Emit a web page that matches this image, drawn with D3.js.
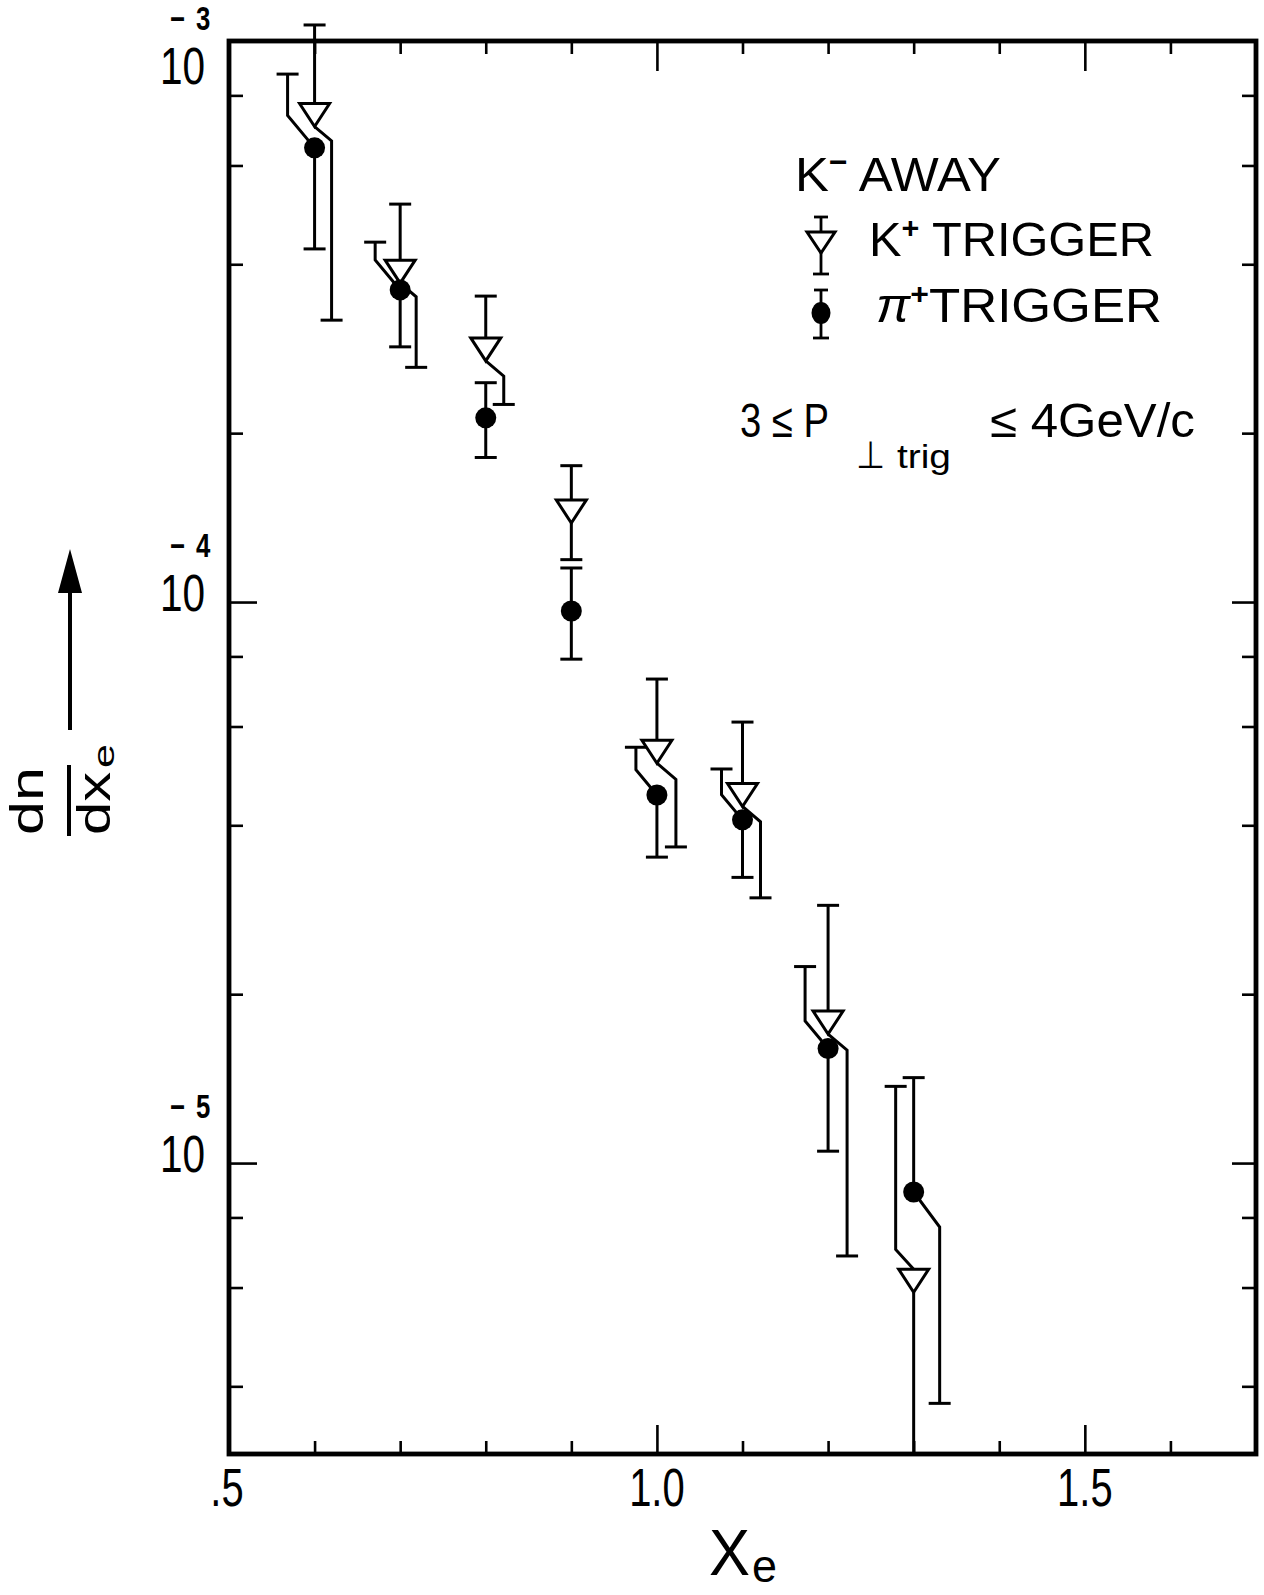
<!DOCTYPE html>
<html>
<head>
<meta charset="utf-8">
<script src="https://cdn.jsdelivr.net/npm/d3@7"></script>
<style>
  html, body { margin: 0; padding: 0; background: #fff; }
  svg { display: block; }
  text { font-family: "Liberation Sans", Arial, sans-serif; fill: #000; }
</style>
</head>
<body>
<svg id="chart" width="1264" height="1595"></svg>
<script>
// ---------------- data ----------------
const xe        = [0.6, 0.7, 0.8, 0.9, 1.0, 1.1, 1.2, 1.3];
// K- away, K+ trigger
const kPlus     = [7.38e-4, 3.88e-4, 2.82e-4, 1.45e-4, 5.41e-5, 4.53e-5, 1.78e-5, 6.17e-6];
const kPlusHi   = [1.068e-3, 5.12e-4, 3.51e-4, 1.75e-4, 7.29e-5, 6.11e-5, 2.88e-5, 1.37e-5];
const kPlusLo   = [3.18e-4, 2.62e-4, 2.25e-4, 1.19e-4, 3.66e-5, 2.97e-5, 6.83e-6, 2.0e-6];
// K- away, pi+ trigger
const piPlus    = [6.45e-4, 3.60e-4, 2.13e-4, 9.64e-5, 4.53e-5, 4.09e-5, 1.60e-5, 8.88e-6];
const piPlusHi  = [8.73e-4, 4.38e-4, 2.46e-4, 1.15e-4, 5.51e-5, 5.04e-5, 2.24e-5, 1.42e-5];
const piPlusLo  = [4.26e-4, 2.85e-4, 1.81e-4, 7.91e-5, 3.51e-5, 3.23e-5, 1.05e-5, 3.73e-6];

const xTicks      = [0.6, 0.7, 0.8, 0.9, 1.0, 1.1, 1.2, 1.3, 1.4, 1.5, 1.6];
const xMajor      = [1.0, 1.5];
const xLabelVals  = [0.5, 1.0, 1.5];
const xLabelText  = [".5", "1.0", "1.5"];
const yTicks      = [8e-4, 6e-4, 4e-4, 2e-4, 1e-4, 8e-5, 6e-5, 4e-5, 2e-5, 1e-5, 8e-6, 6e-6, 4e-6];
const yMajor      = [1e-4, 1e-5];
const yDecades    = [1e-3, 1e-4, 1e-5];
const yDecadeExp  = ["3", "4", "5"];

// ---------------- style: horizontal displacement (px) of overlapping error-bar halves ----------------
const kLoShift  = [17, 16, 18, 0, 19, 18, 19, 0];
const kHiShift  = [0, 0, 0, 0, 0, 0, 0, -18];
const piHiShift = [-27, -25, 0, 0, -21, -21, -23, 0];
const piLoShift = [0, 0, 0, 0, 0, 0, 0, 26];

// ---------------- layout ----------------
const X0 = 229, X1 = 1256, Y0 = 41, Y1 = 1454;
const svg = d3.select("#chart");
const x = d3.scaleLinear().domain([0.5, 1.7]).range([X0, X1]);
const y = d3.scaleLog().domain([1e-3, 3.03e-6]).range([Y0, Y1]);

const LW = 3;      // error bar width
const CAP = 11;    // half cap width
const TW = 15, TH = 11.5; // triangle half width / half height
const R = 10.5;

function fitH(sel, x0, x1) {
  const b = sel.node().getBBox();
  const s = (x1 - x0) / b.width;
  sel.attr("transform", `translate(${x0 - b.x * s},0) scale(${s},1)`);
}
function near(a, list) { return list.some(v => Math.abs(v - a) < 1e-9); }

// ---------------- axes ----------------
const gB = svg.append("g").attr("transform", `translate(0,${Y1})`)
  .call(d3.axisBottom(x).tickValues(xTicks).tickSize(-13).tickSizeOuter(0).tickFormat(""));
const gT = svg.append("g").attr("transform", `translate(0,${Y0})`)
  .call(d3.axisTop(x).tickValues(xTicks).tickSize(-13).tickSizeOuter(0).tickFormat(""));
const gL = svg.append("g").attr("transform", `translate(${X0},0)`)
  .call(d3.axisLeft(y).tickValues(yTicks).tickSize(-14).tickSizeOuter(0).tickFormat(""));
const gR = svg.append("g").attr("transform", `translate(${X1},0)`)
  .call(d3.axisRight(y).tickValues(yTicks).tickSize(-14).tickSizeOuter(0).tickFormat(""));
[gB, gT, gL, gR].forEach(g => {
  g.select(".domain").remove();
  g.selectAll(".tick line").attr("stroke", "#000").attr("stroke-width", 2.6);
});
gB.selectAll(".tick line").filter(d => near(d, xMajor)).attr("y2", -29);
gT.selectAll(".tick line").filter(d => near(d, xMajor)).attr("y2", 30);
gL.selectAll(".tick line").filter(d => near(d, yMajor)).attr("x2", 28);
gR.selectAll(".tick line").filter(d => near(d, yMajor)).attr("x2", -24);

svg.append("rect").attr("x", X0).attr("y", Y0).attr("width", X1 - X0).attr("height", Y1 - Y0)
  .attr("fill", "none").attr("stroke", "#000").attr("stroke-width", 4.8);

// x tick labels
xLabelVals.forEach((v, i) => {
  const t = svg.append("text").attr("x", 0).attr("y", 1506)
    .attr("text-anchor", "middle").attr("font-size", 54).text(xLabelText[i]);
  t.attr("transform", `translate(${x(v) - (i === 0 ? 2 : 0)},0) scale(0.74,1)`);
});
// y decade labels: "10" with superscript exponent
const SX = 0.78;
yDecades.forEach((v, i) => {
  const base = Math.max(y(v) + 9, 84);
  const t = svg.append("text").attr("transform", `translate(160,0) scale(${SX},1)`);
  t.append("tspan").attr("x", 0).attr("y", base).attr("font-size", 52).text("10");
  t.append("tspan").attr("x", (170 - 160) / SX).attr("y", base - 54).attr("font-size", 33)
    .attr("font-weight", "bold").text("\u2212");
  t.append("tspan").attr("x", (196 - 160) / SX).attr("y", base - 54).attr("font-size", 33)
    .attr("font-weight", "bold").text(yDecadeExp[i]);
});

// axis titles
const xt = svg.append("text").attr("x", 0).attr("y", 1575).attr("font-size", 64).text("X");
fitH(xt, 709, 750);
const xs = svg.append("text").attr("x", 0).attr("y", 1582).attr("font-size", 46).text("e");
fitH(xs, 752, 777);

const gy = svg.append("g").attr("transform", "rotate(-90)");
const dn = gy.append("text").attr("x", 0).attr("y", 43).attr("font-size", 46).text("dn");
fitH(dn, -835, -767);
const dx = gy.append("text").attr("x", 0).attr("y", 110).attr("font-size", 46).text("dx");
fitH(dx, -835, -772);
const de = gy.append("text").attr("x", 0).attr("y", 114).attr("font-size", 30).text("e");
fitH(de, -768, -744);
svg.append("line").attr("x1", 69).attr("x2", 69).attr("y1", 765).attr("y2", 836)
  .attr("stroke", "#000").attr("stroke-width", 4);
svg.append("line").attr("x1", 70).attr("x2", 70).attr("y1", 730).attr("y2", 585)
  .attr("stroke", "#000").attr("stroke-width", 4);
svg.append("path").attr("d", "M70,549 L58,593 L82,593 Z").attr("fill", "#000");

// ---------------- data marks ----------------
svg.append("defs").append("clipPath").attr("id", "clipBottom")
  .append("rect").attr("x", 0).attr("y", 0).attr("width", 1264).attr("height", Y1 - 2);
const gd = svg.append("g").attr("clip-path", "url(#clipBottom)");

function bar(path, capX, capY) {
  gd.append("path").attr("d", path).attr("fill", "none").attr("stroke", "#000")
    .attr("stroke-width", LW).attr("stroke-linejoin", "miter");
  gd.append("line").attr("x1", capX - CAP).attr("x2", capX + CAP).attr("y1", capY).attr("y2", capY)
    .attr("stroke", "#000").attr("stroke-width", LW);
}

xe.forEach((xv, i) => {
  const cx = x(xv);
  // K+ trigger bars
  const ky = y(kPlus[i]);
  const kTop = ky - TH, kBot = ky + TH;
  const kh = y(kPlusHi[i]), kl = y(kPlusLo[i]);
  let d = kHiShift[i];
  if (d) bar(`M${cx + d},${kh} L${cx + d},${kTop - 1.1 * Math.abs(d)} L${cx},${kTop}`, cx + d, kh);
  else bar(`M${cx},${kh} L${cx},${kTop}`, cx, kh);
  d = kLoShift[i];
  if (d) bar(`M${cx},${kBot} L${cx + d},${kBot + 0.85 * Math.abs(d)} L${cx + d},${kl}`, cx + d, kl);
  else bar(`M${cx},${kBot} L${cx},${kl}`, cx, kl);
  // pi+ trigger bars
  const py = y(piPlus[i]);
  const ph = y(piPlusHi[i]), pl = y(piPlusLo[i]);
  d = piHiShift[i];
  if (d) bar(`M${cx + d},${ph} L${cx + d},${py - 1.2 * Math.abs(d)} L${cx},${py}`, cx + d, ph);
  else bar(`M${cx},${ph} L${cx},${py}`, cx, ph);
  d = piLoShift[i];
  if (d) bar(`M${cx},${py} L${cx + d},${py + 1.35 * Math.abs(d)} L${cx + d},${pl}`, cx + d, pl);
  else bar(`M${cx},${py} L${cx},${pl}`, cx, pl);
});

gd.selectAll("path.tri").data(xe).enter().append("path").attr("class", "tri")
  .attr("d", (xv, i) => {
    const cx = x(xv), cy = y(kPlus[i]);
    return `M${cx - TW},${cy - TH} L${cx + TW},${cy - TH} L${cx},${cy + TH} Z`;
  })
  .attr("fill", "#fff").attr("stroke", "#000").attr("stroke-width", 3).attr("stroke-linejoin", "miter");
gd.selectAll("circle.pi").data(xe).enter().append("circle").attr("class", "pi")
  .attr("cx", xv => x(xv)).attr("cy", (xv, i) => y(piPlus[i])).attr("r", R).attr("fill", "#000");

// ---------------- legend ----------------
const lg = svg.append("g");
function lline(x1, y1, x2, y2) {
  lg.append("line").attr("x1", x1).attr("y1", y1).attr("x2", x2).attr("y2", y2)
    .attr("stroke", "#000").attr("stroke-width", 2.8);
}
// K+ marker
lline(821, 217, 821, 232); lline(814, 217, 828, 217);
lline(821, 253, 821, 274); lline(813, 274, 829, 274);
lg.append("path").attr("d", "M807,232 L835,232 L821,253 Z").attr("fill", "#fff")
  .attr("stroke", "#000").attr("stroke-width", 3);
// pi+ marker
lline(821, 290, 821, 338); lline(814, 290, 828, 290); lline(813, 338, 829, 338);
lg.append("ellipse").attr("cx", 821).attr("cy", 313).attr("rx", 9.5).attr("ry", 11).attr("fill", "#000");

const t1 = lg.append("text").attr("x", 0).attr("y", 191).attr("font-size", 48);
t1.append("tspan").text("K");
t1.append("tspan").attr("font-size", 30).attr("dy", -19).attr("font-weight", "bold").text("\u2212");
t1.append("tspan").attr("dy", 19).text(" AWAY");
fitH(t1, 795, 1001);

const t2 = lg.append("text").attr("x", 0).attr("y", 256).attr("font-size", 48);
t2.append("tspan").text("K");
t2.append("tspan").attr("font-size", 30).attr("dy", -18).attr("font-weight", "bold").text("+");
t2.append("tspan").attr("dy", 18).text(" TRIGGER");
fitH(t2, 869, 1154);

const t3 = lg.append("text").attr("x", 0).attr("y", 322).attr("font-size", 48);
t3.append("tspan").attr("font-style", "italic").text("\u03c0");
t3.append("tspan").attr("font-size", 30).attr("dy", -18).attr("font-weight", "bold").text("+");
t3.append("tspan").attr("dy", 18).text("TRIGGER");
fitH(t3, 876, 1162);

const t4 = lg.append("text").attr("x", 0).attr("y", 437).attr("font-size", 48).text("3 \u2264 P");
fitH(t4, 740, 829);
const t5 = lg.append("text").attr("x", 0).attr("y", 468).attr("font-size", 38)
  .style("font-family", "'DejaVu Sans', sans-serif").text("\u22a5");
fitH(t5, 856, 885);
const t6 = lg.append("text").attr("x", 0).attr("y", 468).attr("font-size", 33).text("trig");
fitH(t6, 897, 951);
const t7 = lg.append("text").attr("x", 0).attr("y", 437).attr("font-size", 48).text("\u2264 4GeV/c");
fitH(t7, 990, 1195);
</script>
</body>
</html>
